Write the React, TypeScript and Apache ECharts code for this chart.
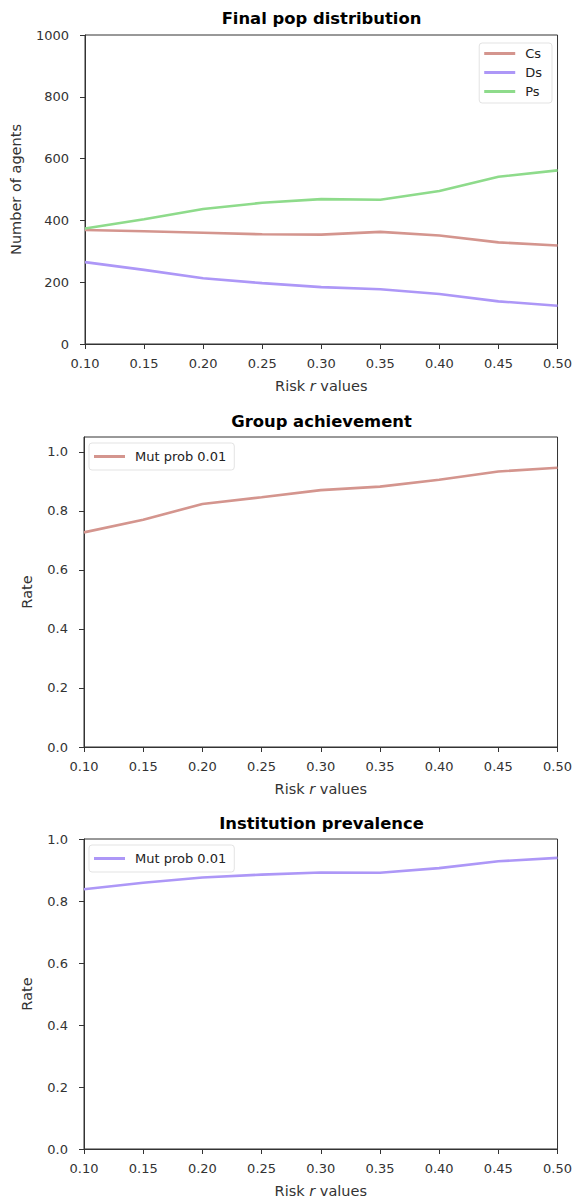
import React, { useEffect, useRef } from "react";
import * as echarts from "echarts";

const riskValues = [0.1, 0.15, 0.2, 0.25, 0.3, 0.35, 0.4, 0.45, 0.5];
const csValues = [369, 365, 360, 355, 354, 363, 351, 329, 319];
const dsValues = [265, 240, 213, 197, 184, 177, 162, 138, 124];
const psValues = [374, 404, 437, 457, 469, 467, 495, 541, 562];
const groupAchievement = [0.727, 0.77, 0.823, 0.846, 0.87, 0.882, 0.905, 0.933, 0.946];
const institutionPrevalence = [0.838, 0.859, 0.876, 0.885, 0.892, 0.891, 0.906, 0.928, 0.939];
const rateTicks = [0, 0.2, 0.4, 0.6, 0.8, 1.0];

const FONT = "DejaVu Sans";
const C_COLOR = "#d4958e";
const D_COLOR = "#ad97f7";
const P_COLOR = "#8edb8b";
const TICK_FS = 13;
const NAME_FS = 14.5;

const pairs = (ys: number[]) => riskValues.map((x, i) => [x, ys[i]]);

export default function App() {
  const ref = useRef<HTMLDivElement>(null);
  useEffect(() => {
    document.body.style.margin = "0";
    const chart = echarts.init(ref.current!, null, { renderer: "svg" });
    const grids = [
      { left: 84, top: 35, width: 475, height: 309 },
      { left: 84, top: 437, width: 475, height: 310 },
      { left: 84, top: 839, width: 475, height: 310 },
    ];
    const xAxis = grids.map((_, i) => ({
      type: "value",
      gridIndex: i,
      min: 0.1,
      max: 0.5,
      interval: 0.05,
      splitLine: { show: false },
      axisLine: { show: true, onZero: false, lineStyle: { color: "#333", width: 1 } },
      axisTick: { show: true, length: 5, lineStyle: { color: "#333" } },
      axisLabel: {
        color: "#333",
        fontFamily: FONT,
        fontSize: TICK_FS,
        margin: 13,
        formatter: (v: number) => v.toFixed(2),
      },
      name: "{a|Risk }{i|r}{a| values}",
      nameLocation: "middle",
      nameGap: 34.5,
      nameTextStyle: {
        rich: {
          a: { fontFamily: FONT, fontSize: NAME_FS, color: "#333" },
          i: { fontFamily: FONT, fontSize: NAME_FS, color: "#333", fontStyle: "italic" },
        },
      },
    }));
    const yBase = {
      splitLine: { show: false },
      axisLine: { show: true, onZero: false, lineStyle: { color: "#333", width: 1 } },
      axisTick: { show: true, length: 5, lineStyle: { color: "#333" } },
      nameLocation: "middle",
      nameRotate: 90,
      nameTextStyle: { fontFamily: FONT, fontSize: NAME_FS, color: "#333" },
    };
    const yLabel = { color: "#333", fontFamily: FONT, fontSize: TICK_FS, margin: 16 };
    const yAxis = [
      {
        ...yBase,
        type: "value",
        gridIndex: 0,
        min: 0,
        max: 1000,
        interval: 200,
        name: "Number of agents",
        nameGap: 62,
        axisLabel: { ...yLabel, formatter: (v: number) => String(v) },
      },
      {
        ...yBase,
        type: "value",
        gridIndex: 1,
        min: 0,
        max: 1.05,
        name: "Rate",
        nameGap: 50,
        axisTick: { ...yBase.axisTick, customValues: rateTicks },
        axisLabel: {
          ...yLabel,
          customValues: rateTicks,
          formatter: (v: number) => v.toFixed(1),
        },
      },
      {
        ...yBase,
        type: "value",
        gridIndex: 2,
        min: 0,
        max: 1,
        interval: 0.2,
        name: "Rate",
        nameGap: 50,
        axisLabel: { ...yLabel, formatter: (v: number) => v.toFixed(1) },
      },
    ];
    const lineSeries = (name: string, data: number[], color: string, idx: number) => ({
      type: "line",
      name,
      xAxisIndex: idx,
      yAxisIndex: idx,
      data: pairs(data),
      showSymbol: false,
      symbol: "none",
      lineStyle: { color, width: 2.6 },
      itemStyle: { color },
    });
    const legendBase = {
      orient: "vertical",
      icon: "rect",
      itemWidth: 31,
      itemHeight: 3,
      itemGap: 6,
      padding: [7, 8, 7, 5],
      borderColor: "#e3e3e3",
      borderWidth: 1,
      borderRadius: 3,
      backgroundColor: "#fff",
      textStyle: { fontFamily: FONT, fontSize: 13, color: "#222", padding: [0, 0, 0, 5] },
    };
    const titleText = (text: string, y: number) => ({
      type: "text",
      x: 321.5,
      y,
      style: {
        text,
        textAlign: "center",
        textVerticalAlign: "middle",
        fontFamily: FONT,
        fontWeight: "bold",
        fontSize: 16.4,
        fill: "#000",
      },
    });
    chart.setOption({
      animation: false,
      backgroundColor: "#fff",
      grid: grids.map((g) => ({ ...g, show: true, borderColor: "#333", borderWidth: 1, backgroundColor: "transparent" })),
      xAxis,
      yAxis,
      legend: [
        { ...legendBase, right: 23, top: 43, padding: [4, 10, 5, 5], data: ["Cs", "Ds", "Ps"] },
        { ...legendBase, left: 89, top: 443, data: ["Mut prob 0.01"] },
        {
          ...legendBase,
          left: 89,
          top: 845,
          data: ["Mut prob 0.01 "],
          formatter: (n: string) => n.trim(),
        },
      ],
      series: [
        lineSeries("Cs", csValues, C_COLOR, 0),
        lineSeries("Ds", dsValues, D_COLOR, 0),
        lineSeries("Ps", psValues, P_COLOR, 0),
        lineSeries("Mut prob 0.01", groupAchievement, C_COLOR, 1),
        lineSeries("Mut prob 0.01 ", institutionPrevalence, D_COLOR, 2),
      ],
      graphic: [
        titleText("Final pop distribution", 18),
        titleText("Group achievement", 421),
        titleText("Institution prevalence", 823),
      ],
    });
    return () => chart.dispose();
  }, []);
  return <div ref={ref} style={{ width: 575, height: 1201 }} />;
}
